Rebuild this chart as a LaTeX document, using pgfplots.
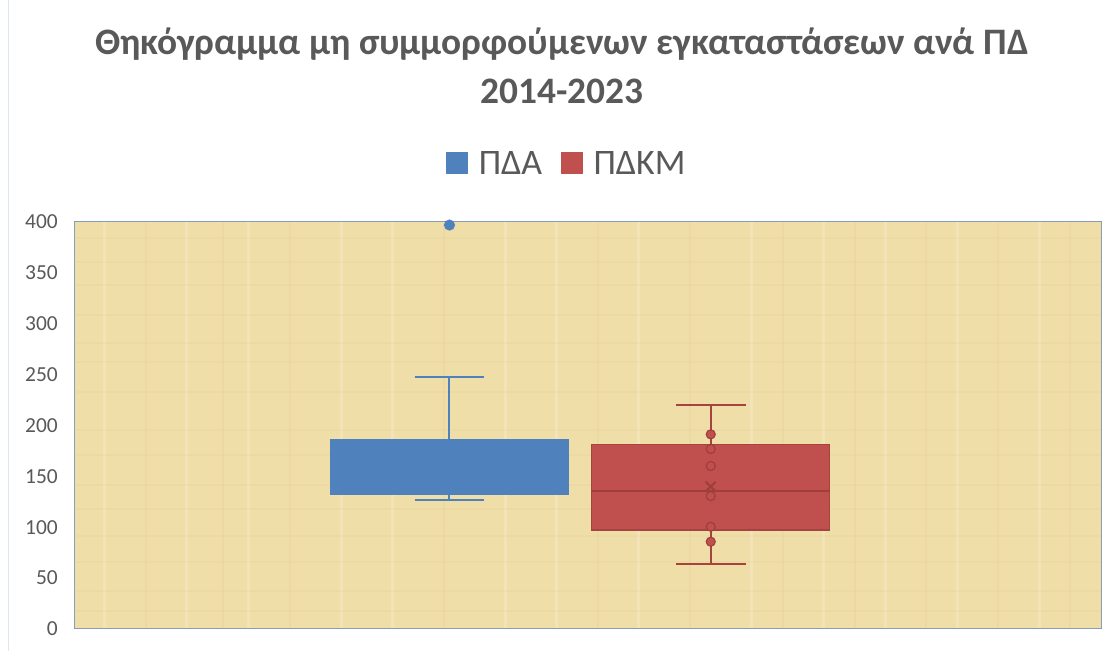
\documentclass[border=0pt]{standalone}
\usepackage{fontspec}
\setmainfont{Carlito}
\usepackage{pgfplots}
\pgfplotsset{compat=1.18}
\usepgfplotslibrary{statistics}
\definecolor{pblue}{RGB}{79,129,189}
\definecolor{pred}{RGB}{192,80,77}
\definecolor{pdred}{RGB}{160,62,60}
\definecolor{txt}{RGB}{89,89,89}
\definecolor{papyrus}{RGB}{240,222,169}
\definecolor{papdark}{RGB}{214,190,128}
\definecolor{framec}{RGB}{134,158,190}
\begin{document}
\begin{tikzpicture}[x=1bp,y=1bp]
\useasboundingbox (0,0) rectangle (1105,651);
\fill[white] (0,0) rectangle (1105,651);
\draw[color={rgb,255:red,222;green,230;blue,240}] (8,0) -- (8,651);
\node[font=\fontsize{37.5}{44}\selectfont\bfseries, text=txt, anchor=base] at (562,596) {Θηκόγραμμα μη συμμορφούμενων εγκαταστάσεων ανά ΠΔ};
\node[font=\fontsize{37.5}{44}\selectfont\bfseries, text=txt, anchor=base] at (562,547) {2014-2023};
\begin{axis}[
  at={(74bp,22bp)}, anchor=south west,
  scale only axis, width=1027bp, height=407bp,
  xmin=0, xmax=1, ymin=0, ymax=400,
  xtick={0.03,0.11,0.17,0.26,0.31,0.42,0.47,0.55,0.66,0.73,0.79,0.86,0.94},
  xticklabels={},
  xmajorgrids,
  major grid style={white, opacity=0.18, line width=3bp},
  extra x ticks={0.07,0.145,0.21,0.36,0.51,0.6,0.69,0.76,0.83,0.9,0.97},
  extra x tick labels={},
  extra x tick style={grid=major, major grid style={papdark, opacity=0.15, line width=2bp}},
  ytick={0,50,...,400},
  extra y ticks={18,37,66,91,118,142,171,196,233,262,281,309,338,361,384},
  extra y tick labels={},
  extra y tick style={grid=major, major grid style={papdark, opacity=0.12, line width=2bp}},
  major tick length=0pt,
  axis background/.style={fill=papyrus},
  axis line style={framec, line width=1pt},
  tick label style={font=\fontsize{21.5}{24}\selectfont, text=txt},
  /pgf/number format/assume math mode=true,
  yticklabel style={inner sep=0pt, xshift=-16bp},
  boxplot/draw direction=y,
  legend columns=2,
  legend style={at={(0.479,1.145)}, anchor=center, draw=none, fill=none,
    font=\fontsize{36}{40}\selectfont, text=txt,
    /tikz/every even column/.append style={column sep=19bp},
    nodes={inner sep=0pt, text depth=0pt}},
  legend cell align=left,
]
\addlegendimage{legend image code/.code={\fill[pblue] (0bp,-10.5bp) rectangle (21bp,10.5bp);}}
\addlegendentry{\hspace{11bp}ΠΔΑ}
\addlegendimage{legend image code/.code={\fill[pred] (0bp,-10.5bp) rectangle (21bp,10.5bp);}}
\addlegendentry{\hspace{11bp}ΠΔΚΜ}
% PDA box
\addplot[forget plot, draw=pblue, fill=pblue, line width=2pt,
  boxplot prepared={lower whisker=126.8, lower quartile=131.7, median=150,
    upper quartile=186.7, upper whisker=247.7,
    draw position=0.3656, box extend=0.231, whisker extend=0.068,
    every whisker/.style={line width=2pt, draw=pblue},
    every box/.style={line width=1pt, draw=pblue, fill=pblue},
    every median/.style={draw=pblue}},
  mark=*, mark size=4.5bp, mark options={fill=pblue, draw=pblue}]
  coordinates {(0,397)};
% PDKM box
\addplot[forget plot, draw=pdred, fill=pred, line width=1.5pt,
  boxplot prepared={lower whisker=63.6, lower quartile=97.3, median=135.6,
    upper quartile=181.5, upper whisker=219.8,
    draw position=0.620, box extend=0.232, whisker extend=0.068,
    every whisker/.style={line width=2pt, draw=pdred!80!pred},
    every box/.style={line width=1.2pt, draw=pdred!80!pred, fill=pred},
    every median/.style={line width=1.5pt, draw=pdred}}]
  coordinates {};
% PDKM inner points
\addplot[forget plot, only marks, mark=*, mark size=4.5bp, mark options={fill=pred, draw=pdred, line width=1.2pt}]
  coordinates {(0.620,191.3) (0.620,176.9) (0.620,160.2) (0.620,130.7) (0.620,100.5) (0.620,85.8)};
% PDKM mean
\addplot[forget plot, only marks, mark=x, mark size=7bp, mark options={draw=pdred, line width=2pt}]
  coordinates {(0.620,139.9)};
\end{axis}
\end{tikzpicture}
\end{document}
